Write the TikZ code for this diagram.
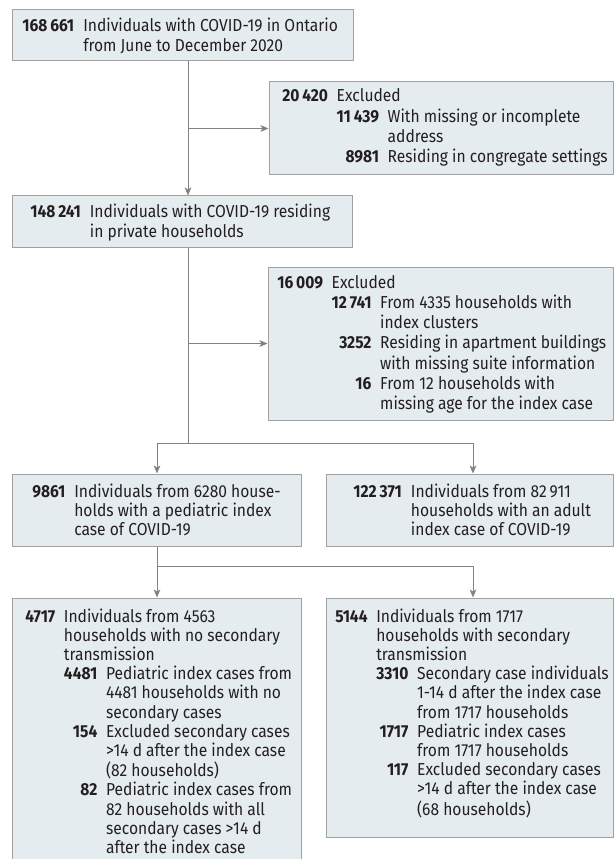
\documentclass[tikz,border=0pt]{standalone}
\usepackage{fontspec}
\setmainfont{Fira Sans}[FakeStretch=0.9]
\usetikzlibrary{arrows.meta,fit}
\definecolor{boxfill}{RGB}{229,236,240}
\definecolor{boxline}{RGB}{160,160,160}
\definecolor{conn}{RGB}{130,130,130}
\definecolor{txt}{RGB}{35,31,32}
\newcommand{\fcfont}{\fontsize{13}{14.3}\selectfont}
\newcommand{\fcfontw}{\fontsize{13}{15.2}\selectfont}
\newcommand{\nb}[1]{\textbf{#1}}
\newcommand{\mc}[1]{\multicolumn{2}{@{}l@{}}{#1}}
\begin{document}
\begin{tikzpicture}[x=0.75pt,y=-0.75pt,
  box/.style={draw=boxline,fill=boxfill,line width=0.75pt,inner sep=0pt},
  lbl/.style={anchor=base west,inner sep=0pt,text=txt,font=\fcfont},
  lblw/.style={lbl,font=\fcfontw},
  conline/.style={draw=conn,line width=0.75pt},
  arr/.style={conline,-{Stealth[length=6pt,width=5pt,inset=1.5pt]}}]
\useasboundingbox (0,0) rectangle (614,859);
\clip (0,0) rectangle (614,859);
% boxes
\node[box,fit={(12,10) (353,61)}] (b1) {};
\node[box,fit={(269,82) (613,175)}] (e1) {};
\node[box,fit={(12,196) (352,247)}] (b2) {};
\node[box,fit={(268,267) (613,420)}] (e2) {};
\node[box,fit={(12,474) (301,546)}] (b3) {};
\node[box,fit={(326,474) (613,546)}] (b4) {};
\node[box,fit={(12,598) (301,880)}] (b5) {};
\node[box,fit={(326,598) (613,837)}] (b6) {};
% texts
\node[lbl] (t1) at (22,32) {\begin{tabular}[t]{@{}r@{\hspace{6.8pt}}l@{}}
\nb{168\,661} & Individuals with COVID-19 in Ontario\\
 & from June to December 2020\end{tabular}};
\node[lblw] (te1) at (282,102) {\begin{tabular}[t]{@{}r@{\hspace{6.5pt}}r@{\hspace{6.5pt}}l@{}}
\nb{20\,420} & \mc{Excluded}\\
 & \nb{11\,439} & With missing or incomplete\\
 & & address\\
 & \nb{8981} & Residing in congregate settings\end{tabular}};
\node[lbl] (t2) at (30,218) {\begin{tabular}[t]{@{}r@{\hspace{6.8pt}}l@{}}
\nb{148\,241} & Individuals with COVID-19 residing\\
 & in private households\end{tabular}};
\node[lblw] (te2) at (277,288) {\begin{tabular}[t]{@{}r@{\hspace{6.5pt}}r@{\hspace{6.5pt}}l@{}}
\nb{16\,009} & \mc{Excluded}\\
 & \nb{12\,741} & From 4335 households with\\
 & & index clusters\\
 & \nb{3252} & Residing in apartment buildings\\
 & & with missing suite information\\
 & \nb{16} & From 12 households with\\
 & & missing age for the index case\end{tabular}};
\node[lbl] (t3) at (32,497) {\begin{tabular}[t]{@{}r@{\hspace{6.8pt}}l@{}}
\nb{9861} & Individuals from 6280 house-\\
 & holds with a pediatric index\\
 & case of COVID-19\end{tabular}};
\node[lbl] (t4) at (353,497) {\begin{tabular}[t]{@{}r@{\hspace{6.8pt}}l@{}}
\nb{122\,371} & Individuals from 82\,911\\
 & households with an adult\\
 & index case of COVID-19\end{tabular}};
\node[lbl] (t5) at (25,622) {\begin{tabular}[t]{@{}r@{\hspace{6.5pt}}r@{\hspace{6.5pt}}l@{}}
\nb{4717} & \mc{Individuals from 4563}\\
 & \mc{households with no secondary}\\
 & \mc{transmission}\\
 & \nb{4481} & Pediatric index cases from\\
 & & 4481 households with no\\
 & & secondary cases\\
 & \nb{154} & Excluded secondary cases\\
 & & >14 d after the index case\\
 & & (82 households)\\
 & \nb{82} & Pediatric index cases from\\
 & & 82 households with all\\
 & & secondary cases >14 d\\
 & & after the index case\end{tabular}};
\node[lbl] (t6) at (335,622) {\begin{tabular}[t]{@{}r@{\hspace{6.5pt}}r@{\hspace{6.5pt}}l@{}}
\nb{5144} & \mc{Individuals from 1717}\\
 & \mc{households with secondary}\\
 & \mc{transmission}\\
 & \nb{3310} & Secondary case individuals\\
 & & 1-14 d after the index case\\
 & & from 1717 households\\
 & \nb{1717} & Pediatric index cases\\
 & & from 1717 households\\
 & \nb{117} & Excluded secondary cases\\
 & & >14 d after the index case\\
 & & (68 households)\end{tabular}};
% connectors
\coordinate (m) at (188,0);
\coordinate (l) at (157,0);
\coordinate (r) at (473,0);
\coordinate (s1) at (188,443);
\coordinate (s2) at (157,566);
\draw[arr] (b1.south -| m) -- (b2.north -| m);
\draw[arr] (m |- e1.west) -- (e1.west);
\draw[conline] (b2.south -| m) -- (s1);
\draw[arr] (m |- e2.west) -- (e2.west);
\draw[arr] (s1) -| (b3.north -| l);
\draw[arr] (s1) -| (b4.north -| r);
\draw[conline] (b3.south -| l) -- (s2);
\draw[arr] (s2) -- (b5.north -| l);
\draw[arr] (s2) -| (b6.north -| r);
\end{tikzpicture}
\end{document}
